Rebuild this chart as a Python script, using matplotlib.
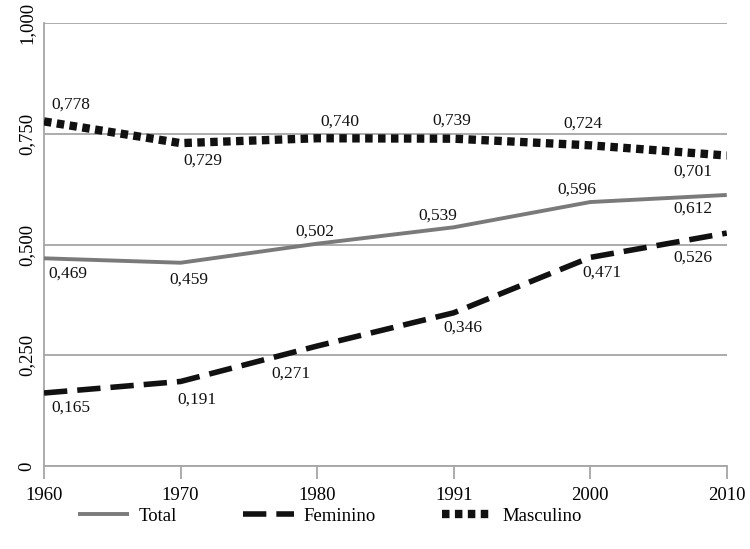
import matplotlib
matplotlib.use("Agg")
import matplotlib.pyplot as plt
from matplotlib.lines import Line2D
import numpy as np

plt.rcParams["font.family"] = ["Liberation Serif", "DejaVu Serif"]

years = ["1960", "1970", "1980", "1991", "2000", "2010"]
total = [0.469, 0.459, 0.502, 0.539, 0.596, 0.612]
feminino = [0.165, 0.191, 0.271, 0.346, 0.471, 0.526]
masculino = [0.778, 0.729, 0.740, 0.739, 0.724, 0.701]

yticks = [0, 0.25, 0.5, 0.75, 1.0]
ytick_labels = ["0", "0,250", "0,500", "0,750", "1,000"]

# data label offsets in pixels (right, down) from each point
total_off = [(24, 15), (8, 17), (-2, -12), (-16, -12), (-13, -12), (-34, 14)]
fem_off = [(27, 15), (16, 18), (-26, 28), (9, 15), (12, 15), (-34, 25)]
masc_off = [(27, -17), (22, 18), (23, -17), (-2, -18), (-7, -22), (-34, 16)]


def fmt(v):
	return f"{v:.3f}".replace(".", ",")


fig = plt.figure(figsize=(7.5, 5.49), dpi=100)
ax = fig.add_axes([0.0587, 0.151, 0.9103, 0.807])

x = np.arange(len(years))

total_style = dict(color="#7a7a7a", lw=2.8, solid_capstyle="butt")
fem_style = dict(color="#111111", lw=4, dashes=(4.2, 1.8))
masc_style = dict(color="#111111", lw=6, dashes=(0.9, 0.65))

ax.plot(x, total, zorder=3, **total_style)
ax.plot(x, feminino, zorder=3, **fem_style)
ax.plot(x, masculino, zorder=3, **masc_style)

px = 0.72  # points per pixel at dpi 100
for series, offs in [(total, total_off), (feminino, fem_off), (masculino, masc_off)]:
	for i, (v, (dx, dy)) in enumerate(zip(series, offs)):
		ax.annotate(
			fmt(v), (x[i], v), xytext=(dx * px, -dy * px), textcoords="offset points",
			ha="center", va="center", fontsize=12.5, color="#111111", zorder=4,
		)

ax.set_xlim(0, 5)
ax.set_ylim(0, 1.0)
ax.set_yticks(yticks)
ax.set_yticklabels(ytick_labels, rotation=90, va="center", fontsize=13.5)
ax.set_yticks([0], minor=True)
ax.set_xticks(x)
ax.set_xticklabels(years, fontsize=13.5)
ax.yaxis.grid(True, color="#a6a6a6", lw=1.3)
ax.set_axisbelow(True)

for s in ["top", "right"]:
	ax.spines[s].set_visible(False)
ax.spines["left"].set_color("#a6a6a6")
ax.spines["bottom"].set_color("#a6a6a6")
ax.spines["left"].set_linewidth(1.3)
ax.spines["bottom"].set_linewidth(1.3)
ax.tick_params(axis="y", which="major", length=0, pad=6)
ax.tick_params(axis="y", which="minor", length=6, width=1.3, color="#a6a6a6")
ax.tick_params(axis="x", length=9, width=1.3, color="#a6a6a6", pad=6)

handles = [
	Line2D([], [], **total_style),
	Line2D([], [], **fem_style),
	Line2D([], [], **masc_style),
]
fig.legend(
	handles, ["Total", "Feminino", "Masculino"],
	loc="center", bbox_to_anchor=(0.44, 0.06), ncol=3, frameon=False,
	fontsize=13.5, handlelength=2.7, columnspacing=3.5, handletextpad=0.55,
)

fig.savefig("out.png", dpi=100)
